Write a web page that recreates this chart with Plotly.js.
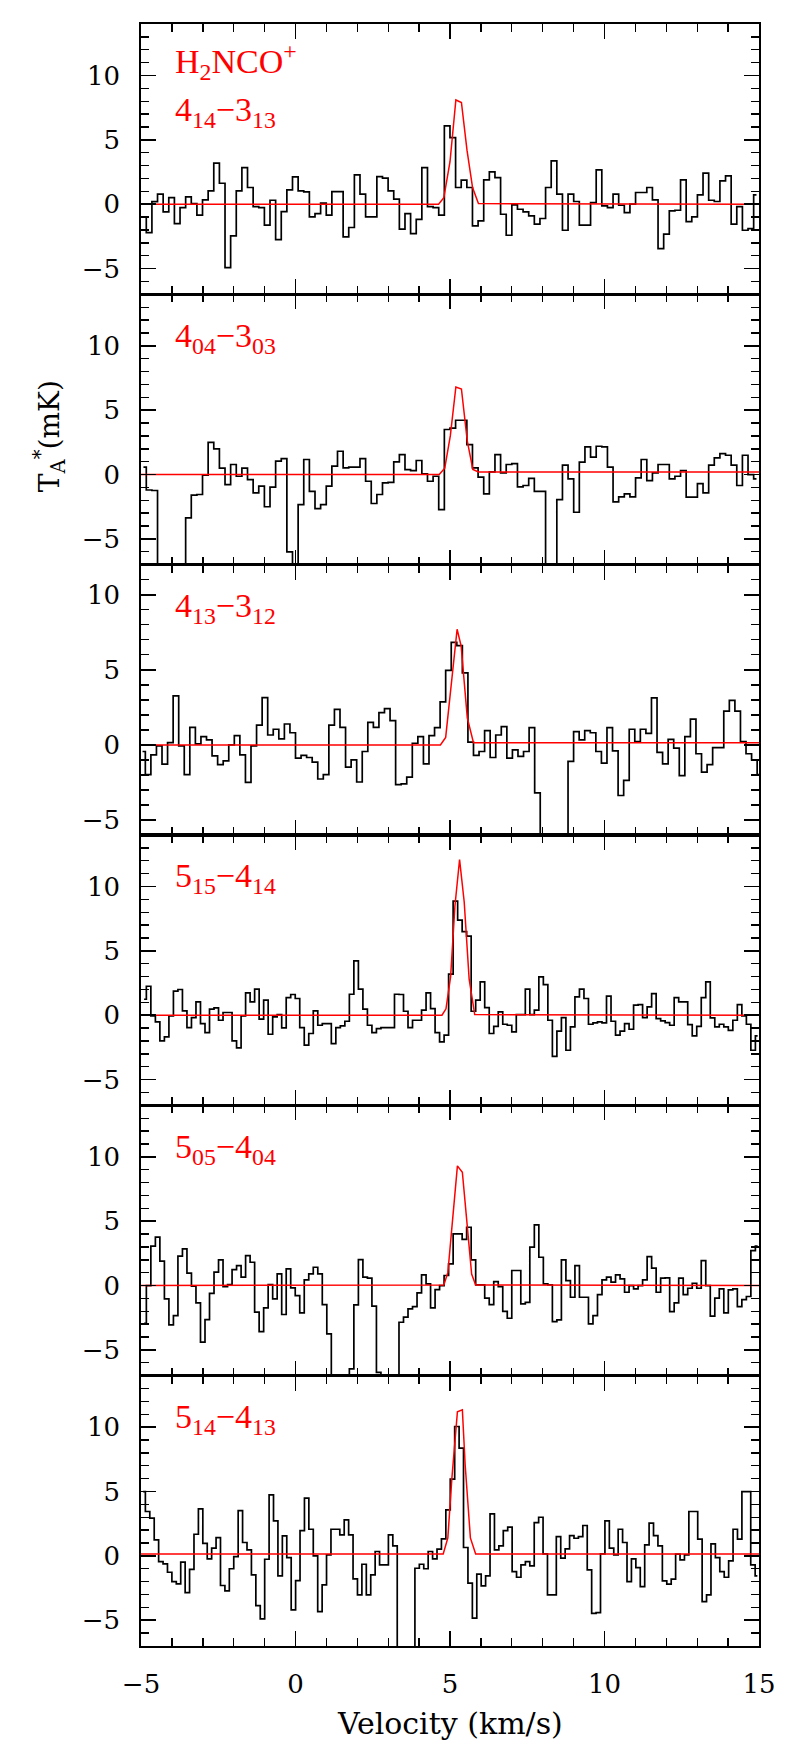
<!DOCTYPE html>
<html><head><meta charset="utf-8">
<script src="https://cdn.plot.ly/plotly-3.0.1.min.js"></script>
<style>body{margin:0;background:#fff}#c{width:800px;height:1756px}</style>
</head><body><div id="c"></div>
<script>
// ---- data (velocity in km/s, antenna temperature in mK) ----
const VEL_RANGE = [-5, 15];
const TICKS_X = [-5, 0, 5, 10, 15];
const TICKS_Y = [-5, 0, 5, 10];
const SPECIES = 'H<sub>2</sub>NCO<sup>+</sup>';
const LINES = ['4<sub>14</sub>\u22123<sub>13</sub>', '4<sub>04</sub>\u22123<sub>03</sub>', '4<sub>13</sub>\u22123<sub>12</sub>',
               '5<sub>15</sub>\u22124<sub>14</sub>', '5<sub>05</sub>\u22124<sub>04</sub>', '5<sub>14</sub>\u22124<sub>13</sub>'];
const Y_RANGES = [[-7, 14], [-7, 14], [-6, 12], [-7, 14], [-7, 14], [-7, 14]];

// channel grids: first channel velocity and channel width
const CH_START = [-4.92, -4.92, -4.95, -4.90, -4.90, -4.93];
const CH_WIDTH = [0.182, 0.182, 0.180, 0.146, 0.146, 0.143];

const T1 = [-1.0,-2.2,0.2,0.78,-0.6,0.52,-1.5,-0.26,0.57,0.05,-0.85,0.34,1.04,3.19,1.63,-4.92,-2.46,1.04,2.85,1.3,
 -0.18,-0.26,-1.63,0.31,-2.75,-0.57,1.11,2.12,1.04,0.96,-0.98,-0.73,0.08,-0.85,0.98,0.98,-2.54,-1.81,2.28,0.78,
 -0.98,-0.98,2.15,2.02,1.04,0.39,-1.94,-0.73,-2.28,-1.17,2.85,-0.18,-0.26,-0.85,6.09,5.18,1.3,1.87,1.3,-1.68,
 -1.3,1.89,2.51,2.07,-0.78,-2.41,-0.05,-0.39,-0.6,-0.91,-1.55,-1.11,1.3,3.37,0.78,-2.02,0.78,0.21,-1.63,-1.63,
 0.13,2.67,-0.13,-0.26,0.78,-0.08,-0.65,0,0.91,0.91,1.3,0.34,-3.45,-2.33,-0.52,-0.47,1.89,-1.35,-0.98,0.73,
 2.41,0.31,0.21,1.81,2.2,-1.55,-0.18,-2.02,-1.9,0.73];
const T2 = [0.57,-1.2,-1.24,-9,-9,-9,-9,-9,-3.37,-1.6,-1.55,-0.05,2.5,2.0,0.5,-0.78,0.78,-0.13,0.5,-0.39,
 -1.42,-0.9,-2.5,-0.98,1.04,1.24,-6.0,-9,-2.33,1.17,-1.3,-2.64,-2.33,-0.9,0.65,1.81,0.52,0.57,0.57,1.24,
 -0.52,-2.25,-1.55,-0.65,-0.6,0.98,1.55,0.39,0.31,1.09,0.05,-0.52,-0.13,-2.72,3.5,3.6,4.22,4.22,2.33,0.52,
 -0.2,-1.5,0.21,1.55,0.13,0.78,0.85,-0.96,-0.85,-0.3,-1.3,-1.3,-9,-9,-1.94,0.73,-0.34,-2.93,0.96,2.15,
 1.35,2.2,2.15,0.57,-2.12,-1.74,-1.5,-1.74,-0.26,1.17,-0.47,0.13,0.78,0.78,-0.34,-0.13,0.31,-1.76,-1.76,-0.7,
 -1.42,0.73,1.3,1.63,1.5,0.73,-0.85,1.5,0.0,-0.34];
const T3 = [-0.44,-1.98,-0.66,-0.07,-1.28,0.15,3.26,-0.07,-1.98,1.17,0.07,0.55,0.33,-0.73,-1.32,-1.06,0,0.62,-0.66,-2.49,
 -0.07,1.32,3.15,0.66,1.04,0.4,1.39,0.81,-0.88,-0.7,-0.84,-1.15,-2.27,-1.98,1.32,2.36,1.17,-1.48,-1.0,-2.47,
 -0.44,1.5,1.17,2.15,2.42,1.61,-2.64,-2.6,-2.14,0.11,0.55,-1.26,0.62,1.15,2.86,4.96,6.83,6.61,4.8,0.18,
 -0.7,-0.44,0.95,-0.84,0.66,1.21,-0.88,-0.33,-0.77,-0.44,1.15,-3.19,-9,-9,-9,-9,-9,-1.1,0.88,0.33,
 0.95,0.81,-0.44,-1.21,1.15,-0.4,-3.37,-2.36,1.04,0.22,1.04,0.77,3.13,-0.5,-1.26,0.37,-0.22,-2.05,0.55,1.72,
 -0.59,-1.81,-1.32,-0.18,-0.18,2.25,2.97,2.25,0.22,-0.59,-1.0,-1.98];
const T4 = [1.24,2.25,-0.05,-0.52,-2.0,-1.68,-0.05,1.87,2.0,0.34,-0.96,-0.18,1.04,-0.65,-1.35,0.47,0.57,-0.39,0.21,0.21,
 -2.0,-2.54,-0.05,1.74,1.04,2.02,-0.31,1.17,-1.48,-0.13,0.05,-0.98,1.37,1.61,1.3,-0.96,-2.33,-1.42,0.34,-0.78,
 -0.65,-0.65,-2.2,-0.96,-0.83,-0.47,1.63,4.22,2.02,0.47,-0.78,-1.35,-1.04,-0.96,-0.96,-0.96,1.63,1.61,0.31,-0.96,
 -0.39,-0.39,0.39,1.74,0.52,-1.35,-2.07,-1.55,3.19,8.86,7.38,6.5,6.14,0.31,1.17,2.59,0.59,-1.42,-0.86,0.26,
 -0.7,-0.78,-1.3,0.05,0.05,2.02,0.05,0.39,2.98,2.38,-0.39,-3.19,-1.24,-0.18,-2.72,-0.91,1.42,2.02,1.3,-0.7,
 -0.6,-0.52,-0.6,1.48,-0.47,-1.55,-1.24,-0.65,-1.09,0.78,0.83,-0.18,0.65,1.68,-0.26,-0.44,-0.57,-0.78,1.37,1.04,
 1.04,-0.73,-1.61,-0.86,1.37,2.59,-0.21,-0.91,-0.7,-0.91,-1.17,-0.39,0.83,-0.05,-0.7,-2.72,-1.61];
const T5 = [-2.93,0.0,3.06,3.76,1.89,-1.04,-3.06,-2.33,2.28,2.85,0.96,-0.05,-1.35,-4.4,-2.64,-0.6,1.04,2.0,-0.08,0.08,
 1.24,1.55,0.65,2.33,1.81,-2.07,-3.58,-1.74,0.08,-1.04,0.91,-2.25,1.3,-0.18,-0.78,-2.12,0.44,0.91,1.42,0.91,
 -1.48,-3.76,-9,-9,-9,-9,-6.48,-1.5,2.02,0.65,0.57,-1.6,-6.74,-9,-9,-9,-9,-2.85,-2.46,-1.81,
 -1.63,-0.57,0.83,0.13,-1.74,-0.31,0,0.78,1.68,4.02,4.02,3.58,4.53,2.0,0.05,0.05,-0.98,-1.48,0.31,-0.08,
 -2.0,-2.54,1.17,1.17,-1.42,-1.3,2.98,4.72,2.2,0.13,0.05,-2.8,-2.67,2.0,0.39,-0.91,1.55,-0.91,-0.91,-2.98,
 -2.33,-0.7,0.44,0.65,0.26,0.83,0.52,-0.52,0,-0.26,0,0.44,2.25,1.35,-0.52,0.57,0.6,-2.02,-1.35,0.57,
 -0.7,-0.21,0.18,-0.21,1.94,0,-2.38,-0.98,-0.26,-2.12,-0.34,-0.26,-1.63,-1.09,-0.85,2.72,3.06];
const T6 = [5.0,3.45,2.93,1.24,-0.44,-0.62,-1.27,-2.0,-2.18,-0.49,-2.85,-1.04,1.68,3.65,0.98,-0.23,0.6,1.42,-2.3,-2.72,
 -1.0,-0.05,3.52,1.04,0.47,-1.48,-3.86,-4.9,-0.26,4.74,2.72,-1.55,1.55,-0.13,-4.2,-1.92,1.97,4.48,2.07,0,
 -4.33,-2.25,0.08,2.07,2.07,1.63,2.8,1.63,-1.79,-3.03,-0.65,-3.03,-1.48,0.34,-0.7,-0.7,1.63,0.78,-9,-9,
 -9,-9,-0.96,-0.65,-1.0,0.34,-0.23,0.52,1.32,3.58,5.96,10.05,8.37,0.65,-2.12,-4.84,-1.42,-2.33,-1.55,3.26,
 0.47,0.78,1.97,2.23,-1.22,-1.66,-0.7,-0.44,-0.78,2.59,3.0,0.15,-3.03,-3.03,1.5,-0.18,0.54,1.58,1.37,1.5,
 2.36,-1.09,-4.46,-4.4,0.15,2.72,0.6,0.08,2.07,1.04,-2.0,-0.23,-0.91,-2.38,0.85,2.54,1.58,0.78,-1.94,-2.2,
 -1.81,0.13,-0.31,0.08,3.45,3.45,1.3,-3.55,-3.03,0.93,-0.13,-1.22,-1.66,-0.39,2.07,1.3,5.0,5.0,-0.7,-1.55];

// Gaussian fit models (red)
const M1_V = [-5, 4.63, 4.80, 5.00, 5.19, 5.37, 5.55, 5.73, 5.92, 15];
const M1_T = [0, 0, 0.5, 3.3, 8.1, 7.9, 4.2, 1.3, 0.05, 0];
const M2_V = [-5, 4.65, 4.83, 5.01, 5.19, 5.37, 5.56, 5.74, 5.92, 15];
const M2_T = [0, 0, 0.5, 3.0, 6.8, 6.65, 2.6, 0.4, 0.2, 0.2];
const M3_V = [-5, 4.69, 4.86, 5.05, 5.23, 5.36, 5.56, 5.76, 15];
const M3_T = [0, 0, 0.5, 4.0, 7.7, 6.6, 1.8, 0.15, 0.15];
const M4_V = [-5, 4.74, 4.87, 5.02, 5.16, 5.31, 5.46, 5.62, 5.80, 15];
const M4_T = [0, 0, 0.5, 3.0, 8.5, 12.1, 8.8, 2.8, 0.05, 0];
const M5_V = [-5, 4.80, 4.93, 5.06, 5.24, 5.40, 5.57, 5.70, 5.83, 15];
const M5_T = [0, 0.05, 1.0, 4.4, 9.3, 8.8, 4.4, 0.9, 0.05, 0];
const M6_V = [-5, 4.78, 4.93, 5.06, 5.24, 5.40, 5.49, 5.66, 5.83, 15];
const M6_T = [0.15, 0.15, 1.4, 6.0, 11.2, 11.35, 7.1, 1.4, 0.15, 0.15];

// ---- build ----
const SPECTRA = [T1, T2, T3, T4, T5, T6];
const MODELS_V = [M1_V, M2_V, M3_V, M4_V, M5_V, M6_V];
const MODELS_T = [M1_T, M2_T, M3_T, M4_T, M5_T, M6_T];

const N = 6;
const tickFont = {family: 'DejaVu Serif', size: 26, color: '#000'};
const labelFont = {family: 'Liberation Serif', size: 34, color: '#ff0000'};
const traces = [];
const layout = {
  width: 800, height: 1756,
  margin: {l: 141, r: 41, t: 24, b: 110},
  paper_bgcolor: '#fff', plot_bgcolor: '#fff',
  showlegend: false,
  annotations: []
};

for (let i = 0; i < N; i++) {
  const s = i === 0 ? '' : String(i + 1);
  const xa = 'x' + s, ya = 'y' + s;
  traces.push({
    type: 'scatter', mode: 'lines', xaxis: xa, yaxis: ya,
    x0: CH_START[i], dx: CH_WIDTH[i], y: SPECTRA[i],
    line: {shape: 'hvh', color: '#000', width: 1.7},
    hoverinfo: 'skip'
  });
  traces.push({
    type: 'scatter', mode: 'lines', xaxis: xa, yaxis: ya,
    x: MODELS_V[i], y: MODELS_T[i],
    line: {color: '#ff0000', width: 1.5},
    hoverinfo: 'skip'
  });
  const top = 1 - i / N, bot = 1 - (i + 1) / N;
  layout['xaxis' + s] = {
    anchor: ya, domain: [0, 1], range: VEL_RANGE,
    tickmode: 'array', tickvals: TICKS_X,
    ticks: 'inside', ticklen: 15, tickwidth: 1.6, tickcolor: '#000',
    minor: {dtick: 1, tick0: 0, ticks: 'inside', ticklen: 8, tickwidth: 1.4, tickcolor: '#000', showgrid: false},
    showline: true, linecolor: '#000', linewidth: 1.8, mirror: 'allticks',
    showgrid: false, zeroline: false,
    showticklabels: i === N - 1, tickfont: tickFont, ticklabelstandoff: 14
  };
  layout['yaxis' + s] = {
    anchor: xa, domain: [bot, top], range: Y_RANGES[i],
    tickmode: 'array', tickvals: TICKS_Y,
    ticks: 'inside', ticklen: 15, tickwidth: 1.6, tickcolor: '#000',
    minor: {dtick: 1, tick0: 0, ticks: 'inside', ticklen: 8, tickwidth: 1.4, tickcolor: '#000', showgrid: false},
    showline: true, linecolor: '#000', linewidth: 1.8, mirror: 'allticks',
    showgrid: false, zeroline: false,
    tickfont: tickFont, ticklabelstandoff: 14
  };
  layout.annotations.push({
    xref: xa + ' domain', yref: ya + ' domain', x: 0.052, y: i === 0 ? 0.675 : 0.84,
    xanchor: 'left', yanchor: 'middle', showarrow: false,
    text: LINES[i], font: labelFont
  });
}
layout.annotations.push({
  xref: 'x domain', yref: 'y domain', x: 0.052, y: 0.86,
  xanchor: 'left', yanchor: 'middle', showarrow: false,
  text: SPECIES, font: labelFont
});
layout.annotations.push({
  xref: 'paper', yref: 'paper', x: 0.5, y: -0.048,
  xanchor: 'center', yanchor: 'middle', showarrow: false,
  text: 'Velocity (km/s)', font: {family: 'DejaVu Serif', size: 30, color: '#000'}
});
layout.annotations.push({
  xref: 'paper', yref: 'paper', x: -0.147, y: 0.746,
  xanchor: 'center', yanchor: 'middle', showarrow: false, textangle: -90,
  text: 'T<sub>A</sub><sup>*</sup>(mK)', font: {family: 'DejaVu Serif', size: 28, color: '#000'}
});

Plotly.newPlot('c', traces, layout, {staticPlot: true, displayModeBar: false});
</script>
</body></html>
